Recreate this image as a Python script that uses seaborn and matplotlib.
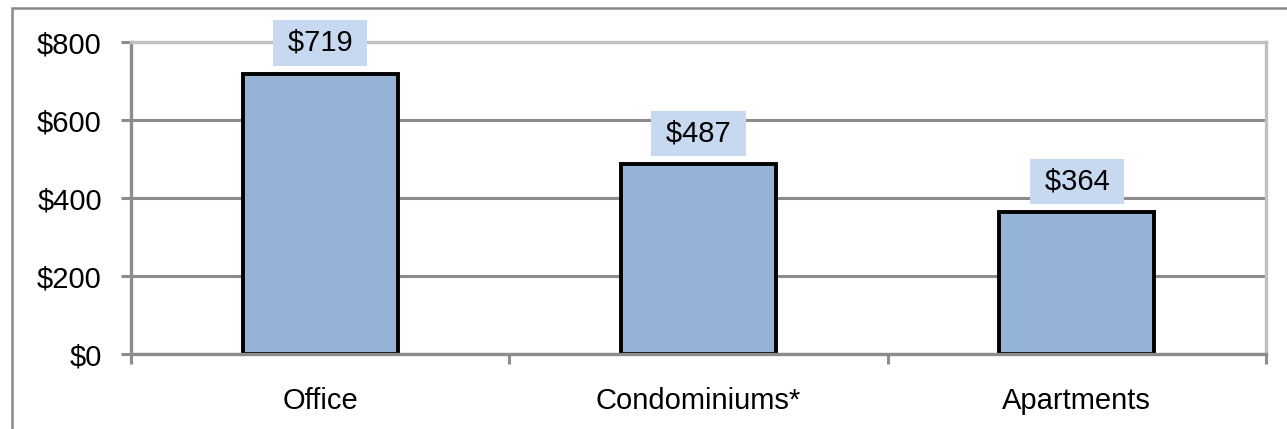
import matplotlib
matplotlib.use("Agg")
import matplotlib.pyplot as plt
import matplotlib.patches as patches
import seaborn as sns
import pandas as pd

# данные
categories = ["Office", "Condominiums*", "Apartments"]
values = [719, 487, 364]
labels = ["\u2009$719\u2009", "\u2009$487\u2009", "\u2009$364\u2009"]
y_ticks = [0, 200, 400, 600, 800]
y_tick_labels = ["$0", "$200", "$400", "$600", "$800"]

df = pd.DataFrame({"category": categories, "value": values})

sns.set_style("white")
plt.rcParams["font.family"] = ["Liberation Sans", "DejaVu Sans"]
plt.rcParams["text.color"] = "black"

fig = plt.figure(figsize=(12.87, 4.29), dpi=100)
ax = fig.add_axes([0.1018, 0.1748, 0.8819, 0.7272])

sns.barplot(data=df, x="category", y="value", color="#95B3D7", width=0.41,
            edgecolor="black", linewidth=2.8, saturation=1, ax=ax, zorder=3)

ax.set_ylim(0, 800)
ax.set_xlim(-0.5, 2.5)
ax.set_yticks(y_ticks)
ax.set_yticklabels(y_tick_labels, fontsize=21, color="black")
ax.set_xticks(range(len(categories)))
ax.set_xticklabels(categories, fontsize=21, color="black")
ax.set_xlabel("")
ax.set_ylabel("")

# линии сетки
ax.yaxis.grid(True, color="#8C8C8C", linewidth=2.2, zorder=0)
ax.set_axisbelow(True)
ax.get_ygridlines()[-1].set_visible(False)

# оси
for side in ["left", "bottom"]:
    ax.spines[side].set_color("#8C8C8C")
    ax.spines[side].set_linewidth(2.4)
for side in ["top", "right"]:
    ax.spines[side].set_color("#C0C0C0")
    ax.spines[side].set_linewidth(2.4)
ax.spines["bottom"].set_zorder(4)

ax.tick_params(axis="y", direction="out", length=7, width=2.2, color="#8C8C8C", pad=14, left=True)
ax.tick_params(axis="x", which="major", length=0, pad=24)
ax.set_xticks([-0.5, 0.5, 1.5, 2.5], minor=True)
ax.tick_params(axis="x", which="minor", direction="out", length=7, width=2.2, color="#8C8C8C", bottom=True)

# подписи значений
ax.bar_label(ax.containers[0], labels=labels, fontsize=21, padding=12, color="black",
             bbox=dict(boxstyle="square,pad=0.3", facecolor="#C6D9F1", edgecolor="none"))

# рамка рисунка
fig.patches.append(patches.Rectangle((12 / 1287, -0.1), 1.2, 1.1 - 8 / 429,
                                     transform=fig.transFigure, fill=False,
                                     edgecolor="#888888", linewidth=1.8))

fig.savefig("out.png", dpi=100)
